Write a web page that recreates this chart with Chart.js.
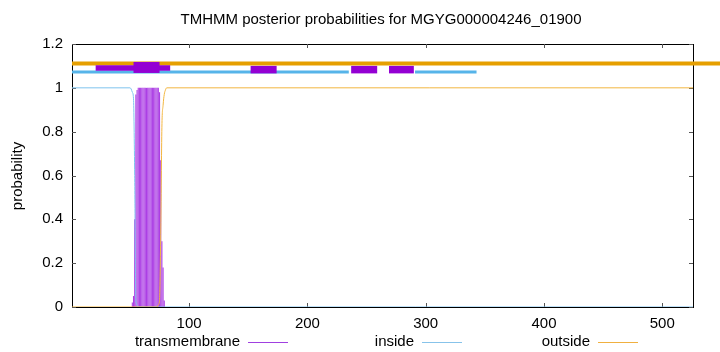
<!DOCTYPE html>
<html>
<head>
<meta charset="utf-8">
<title>TMHMM posterior probabilities</title>
<script src="https://cdn.jsdelivr.net/npm/chart.js@4.4.0/dist/chart.umd.min.js"></script>
<style>
  body { margin: 0; background: #fff; }
  #wrap { width: 720px; height: 352px; }
</style>
</head>
<body>
<div id="wrap"><canvas id="tmhmmChart" width="720" height="352"></canvas></div>
<script>
const seqLength = 526;
const xTicks = [100, 200, 300, 400, 500];
const yTicks = [0, 0.2, 0.4, 0.6, 0.8, 1, 1.2];

// transmembrane posterior, residues where it is non-zero
const tmPos = [52, 53, 54, 55, 56, 57, 58, 59, 60, 61, 62, 63, 64, 65, 66, 67, 68, 69, 70, 71, 72, 73, 74, 75, 76, 77, 78, 79];
const tmProb = [0.02, 0.05, 0.40, 0.97, 0.99, 1, 1, 1, 1, 1, 1, 1, 1, 1, 1, 1, 1, 1, 1, 1, 1, 1, 1, 0.98, 0.67, 0.30, 0.18, 0.03];

// inside / outside posteriors (flat stretches only keep their end points)
const insidePos = [1, 50, 51, 52, 53, 54, 55, 56, 57, 526];
const insideProb = [1, 1, 0.995, 0.98, 0.95, 0.6, 0.03, 0.01, 0, 0];
const outsidePos = [1, 73, 74, 75, 76, 77, 78, 79, 80, 81, 526];
const outsideProb = [0, 0, 0.01, 0.03, 0.33, 0.82, 0.92, 0.97, 0.99, 1, 1];

// predicted topology strip drawn above the curves (start, end residue)
const outsideSegs = [[1, 560]];
const insideSegs = [[1, 235], [291, 343]];
const tmSegs = [[21, 84], [53, 75], [152, 174], [237, 259], [269, 290]];

const legendItems = ["transmembrane", "inside", "outside"];

const PURPLE = "#9400d3";
const BLUE = "#56b4e9";
const ORANGE = "#e69f00";

function toPoints(xs, ys) {
  return xs.map((x, i) => ({ x: x, y: ys[i] }));
}

function segDataset(seg, level, color, width, order) {
  return {
    type: "line",
    data: [{ x: seg[0], y: level }, { x: seg[1], y: level }],
    borderColor: color,
    borderWidth: width,
    borderCapStyle: "butt",
    pointRadius: 0,
    clip: false,
    order: order
  };
}

let datasets = [
  {
    type: "bar",
    label: "transmembrane",
    data: toPoints(tmPos, tmProb),
    backgroundColor: "rgba(160, 36, 224, 0.88)",
    barPercentage: 0.92,
    categoryPercentage: 1,
    order: 10
  },
  {
    type: "line",
    label: "inside",
    data: toPoints(insidePos, insideProb),
    borderColor: "#7fc3ee",
    borderWidth: 1,
    pointRadius: 0,
    cubicInterpolationMode: "monotone",
    order: 9
  },
  {
    type: "line",
    label: "outside",
    data: toPoints(outsidePos, outsideProb),
    borderColor: "#f2b640",
    borderWidth: 1,
    pointRadius: 0,
    cubicInterpolationMode: "monotone",
    order: 8
  }
];

outsideSegs.forEach(s => datasets.push(segDataset(s, 1.111, ORANGE, 4, 5)));
insideSegs.forEach(s => datasets.push(segDataset(s, 1.072, BLUE, 3, 4)));
// first tm box is the thin background one, second the tall one
const tmWidths = [5.5, 11, 7.5, 7.5, 7.5];
const tmLevels = [1.091, 1.093, 1.083, 1.083, 1.083];
tmSegs.forEach((s, i) => datasets.push(segDataset(s, tmLevels[i], PURPLE, tmWidths[i], i === 1 ? 1 : 2)));

const FONT = '"Liberation Sans", Arial, sans-serif';

const decorations = {
  id: "decorations",
  beforeDatasetsDraw(chart) {
    const { ctx, chartArea: a, scales } = chart;
    ctx.save();
    ctx.strokeStyle = "#000";
    ctx.lineWidth = 1;
    ctx.strokeRect(a.left + 0.5, a.top + 0.5, a.right - a.left, a.bottom - a.top);
    // inward tick marks, mirrored on all four sides
    ctx.strokeStyle = "#555";
    ctx.beginPath();
    xTicks.forEach(v => {
      const px = Math.round(scales.x.getPixelForValue(v)) + 0.5;
      ctx.moveTo(px, a.bottom);
      ctx.lineTo(px, a.bottom - 4);
      ctx.moveTo(px, a.top);
      ctx.lineTo(px, a.top + 4);
    });
    yTicks.forEach(v => {
      const py = Math.round(scales.y.getPixelForValue(v)) + 0.5;
      ctx.moveTo(a.left, py);
      ctx.lineTo(a.left + 4, py);
      ctx.moveTo(a.right, py);
      ctx.lineTo(a.right - 4, py);
    });
    ctx.stroke();
    ctx.restore();
  },
  afterDraw(chart) {
    const { ctx } = chart;
    ctx.save();
    ctx.fillStyle = "#000";
    ctx.font = "15px " + FONT;
    ctx.textAlign = "center";
    ctx.textBaseline = "middle";
    ctx.fillText("TMHMM posterior probabilities for MGYG000004246_01900", 381, 20);

    ctx.save();
    ctx.translate(18, 176);
    ctx.rotate(-Math.PI / 2);
    ctx.fillText("probability", 0, 0);
    ctx.restore();

    // gnuplot style key: text first, then a short line sample
    const colors = ["#a040e0", "#87c3ea", "#f0b040"];
    const lineStarts = [248, 422, 598];
    ctx.textAlign = "right";
    legendItems.forEach((label, i) => {
      ctx.fillStyle = "#000";
      ctx.fillText(label, lineStarts[i] - 8, 342);
      ctx.strokeStyle = colors[i];
      ctx.lineWidth = 1;
      ctx.beginPath();
      ctx.moveTo(lineStarts[i], 342.5);
      ctx.lineTo(lineStarts[i] + 40, 342.5);
      ctx.stroke();
    });
    ctx.restore();
  }
};

Chart.defaults.font.family = FONT;
Chart.defaults.font.size = 15;
Chart.defaults.color = "#000";

const chart = new Chart(document.getElementById("tmhmmChart"), {
  type: "line",
  data: { datasets: datasets },
  options: {
    responsive: false,
    animation: false,
    layout: { padding: { top: 44, right: 27, left: 0, bottom: 0 } },
    plugins: {
      legend: { display: false },
      title: { display: false },
      tooltip: { enabled: false }
    },
    scales: {
      x: {
        type: "linear",
        min: 1,
        max: seqLength,
        offset: false,
        grid: { display: false, drawTicks: false },
        border: { display: false },
        ticks: { padding: 8, maxRotation: 0, callback: v => String(v) },
        afterBuildTicks: s => { s.ticks = xTicks.map(v => ({ value: v })); },
        afterFit: s => { s.height = 45; }
      },
      y: {
        min: 0,
        max: 1.2,
        grid: { display: false, drawTicks: false },
        border: { display: false },
        ticks: { padding: 9, callback: v => String(v) },
        afterBuildTicks: s => { s.ticks = yTicks.map(v => ({ value: v })); },
        afterFit: s => { s.width = 72; }
      }
    }
  },
  plugins: [decorations]
});
</script>
</body>
</html>
